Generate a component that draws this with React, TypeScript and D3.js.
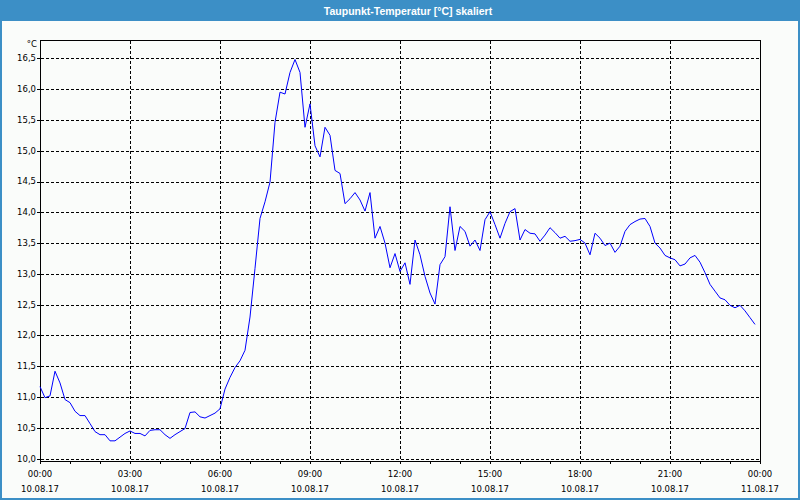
import React from "react";
import * as d3 from "d3";

// ---- data ----
const title = "Taupunkt-Temperatur [°C] skaliert";
const unitLabel = "°C";
const stepMinutes = 10;
const dewPoint: number[] = [
  11.17, 10.99, 11.02, 11.42, 11.23, 10.96, 10.91, 10.77, 10.70, 10.70,
  10.57, 10.44, 10.39, 10.39, 10.29, 10.29, 10.35, 10.41, 10.45, 10.41,
  10.41, 10.37, 10.46, 10.47, 10.47, 10.39, 10.33, 10.39, 10.44, 10.49,
  10.75, 10.76, 10.68, 10.66, 10.70, 10.74, 10.81, 11.13, 11.32, 11.48,
  11.59, 11.76, 12.30, 13.09, 13.90, 14.17, 14.49, 15.46, 15.95, 15.92,
  16.27, 16.48, 16.27, 15.38, 15.76, 15.08, 14.90, 15.38, 15.25, 14.68,
  14.63, 14.14, 14.22, 14.32, 14.20, 14.02, 14.32, 13.58, 13.77, 13.50,
  13.10, 13.33, 13.04, 13.18, 12.83, 13.55, 13.31, 12.96, 12.69, 12.51,
  13.15, 13.28, 14.09, 13.38, 13.77, 13.69, 13.45, 13.55, 13.38, 13.88,
  14.01, 13.80, 13.58, 13.82, 14.01, 14.06, 13.55, 13.72, 13.66, 13.65,
  13.53, 13.63, 13.75, 13.67, 13.58, 13.61, 13.53, 13.54, 13.56, 13.50,
  13.31, 13.66, 13.58, 13.46, 13.50, 13.35, 13.45, 13.69, 13.80, 13.85,
  13.89, 13.90, 13.77, 13.50, 13.42, 13.30, 13.26, 13.23, 13.13, 13.16,
  13.26, 13.30, 13.19, 13.02, 12.83, 12.72, 12.61, 12.58, 12.49, 12.45,
  12.49, 12.40, 12.29, 12.18,
];
const yTicks: number[] = [10, 10.5, 11, 11.5, 12, 12.5, 13, 13.5, 14, 14.5, 15, 15.5, 16, 16.5];
const xTickHours: number[] = [0, 3, 6, 9, 12, 15, 18, 21, 24];
const xTimeLabels: string[] = ["00:00", "03:00", "06:00", "09:00", "12:00", "15:00", "18:00", "21:00", "00:00"];
const xDateLabels: string[] = ["10.08.17", "10.08.17", "10.08.17", "10.08.17", "10.08.17", "10.08.17", "10.08.17", "10.08.17", "11.08.17"];
const minorHours: number[] = d3.range(0, 25);

// ---- layout ----
const W = 800;
const H = 500;
const left = 40;
const right = 760;
const top = 40;
const bottom = 461;
const blue = "#3c8fc6";
const font = "'DejaVu Sans', Verdana, sans-serif";

export default function App() {
  const x = d3.scaleLinear().domain([0, 24 * 60]).range([left, right]);
  const y = d3.scaleLinear().domain([10, 16.5]).range([458.7, 58.3]);
  const line = d3
    .line<number>()
    .x((_, i) => x(i * stepMinutes))
    .y((d) => y(d));
  const px = (v: number) => Math.round(v) + 0.5;

  return (
    <svg
      width={W}
      height={H}
      style={{ position: "fixed", left: 0, top: 0, display: "block" }}
    >
      <rect x={0} y={0} width={W} height={H} fill={blue} />
      <rect x={2} y={21} width={W - 4} height={H - 23} fill="#fafcfa" />
      <text
        x={408}
        y={15}
        textAnchor="middle"
        fill="#ffffff"
        fontFamily="'Liberation Sans', Arial, sans-serif"
        fontWeight="bold"
        fontSize={10.5}
      >
        {title}
      </text>

      {/* grid */}
      <g stroke="#000" strokeWidth={1} strokeDasharray="3,2" shapeRendering="crispEdges">
        {yTicks.map((t) => (
          <line key={"gy" + t} x1={left + 1} x2={right} y1={px(y(t))} y2={px(y(t))} />
        ))}
        {xTickHours.slice(1, -1).map((h) => (
          <line key={"gx" + h} x1={px(x(h * 60))} x2={px(x(h * 60))} y1={top + 1} y2={bottom} />
        ))}
      </g>

      {/* frame */}
      <g stroke="#000" strokeWidth={1} shapeRendering="crispEdges" fill="none">
        <rect x={left + 0.5} y={top + 0.5} width={right - left} height={bottom - top} />
        {minorHours.map((h) => (
          <line key={"mt" + h} x1={px(x(h * 60))} x2={px(x(h * 60))} y1={bottom} y2={bottom + 3} />
        ))}
        {yTicks.map((t) => (
          <line key={"yt" + t} x1={left - 3} x2={left} y1={px(y(t))} y2={px(y(t))} />
        ))}
      </g>

      {/* y labels */}
      <g fontFamily={font} fontSize={8.5} fill="#000" textAnchor="end">
        <text x={37} y={47}>{unitLabel}</text>
        {yTicks.map((t) => (
          <text key={"yl" + t} x={36} y={y(t)} dy="0.35em">
            {d3.format(".1f")(t).replace(".", ",")}
          </text>
        ))}
      </g>

      {/* x labels */}
      <g fontFamily={font} fontSize={8.5} fill="#000" textAnchor="middle">
        {xTickHours.map((h, i) => (
          <g key={"xl" + h}>
            <text x={x(h * 60)} y={477}>{xTimeLabels[i]}</text>
            <text x={x(h * 60)} y={492}>{xDateLabels[i]}</text>
          </g>
        ))}
      </g>

      {/* data line */}
      <path d={line(dewPoint) || ""} fill="none" stroke="#0000ff" strokeWidth={1} />
    </svg>
  );
}
